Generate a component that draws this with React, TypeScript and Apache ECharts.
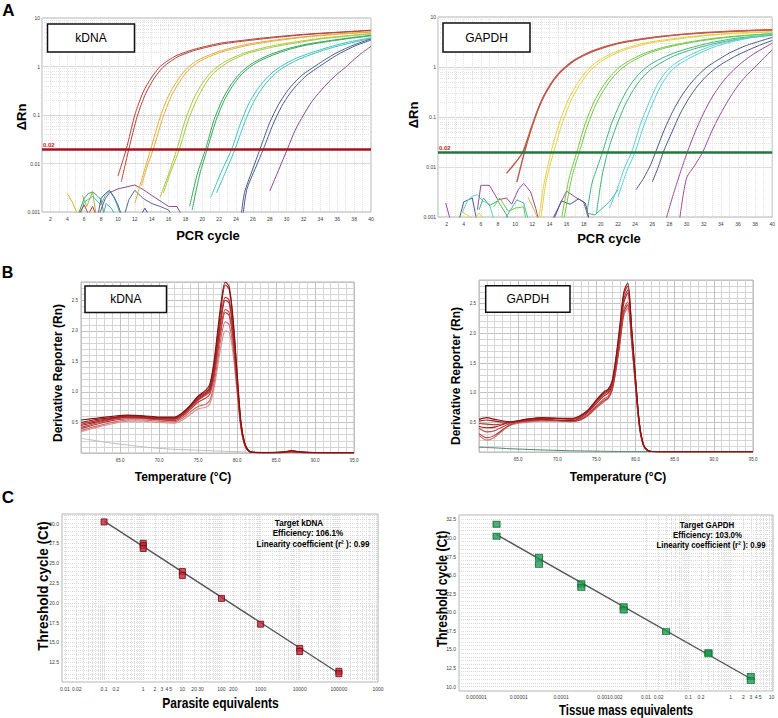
import React, { useEffect, useRef } from "react";
import * as echarts from "echarts";

const FONT = '"Liberation Sans", Arial, Helvetica, sans-serif';

// ---------------- Panel A : amplification plots ----------------
const cycleTicks = [2, 4, 6, 8, 10, 12, 14, 16, 18, 20, 22, 24, 26, 28, 30, 32, 34, 36, 38, 40];
const rnTicks = [0.001, 0.01, 0.1, 1, 10];
const thresholdRn = 0.02;

// kDNA curves [cycle, ΔRn]
const kRed1 = [[10, 0.0055], [11, 0.02], [12, 0.1], [13, 0.3], [14, 0.6], [15, 1.0], [16, 1.35], [17, 1.7], [19, 2.25], [22, 3.0], [25, 3.5], [28, 4.0], [32, 4.6], [36, 5.1], [40, 5.6]];
const kRed2 = [[10.4, 0.0042], [11.3, 0.02], [12.3, 0.095], [13.3, 0.28], [14.3, 0.57], [15.3, 0.95], [16.3, 1.3], [17.3, 1.65], [19.3, 2.2], [22.3, 2.9], [25.3, 3.4], [28.3, 3.9], [32, 4.5], [36, 5.0], [40, 5.5]];
const kOra1 = [[12, 0.0015], [13, 0.006], [13.9, 0.02], [15, 0.09], [16, 0.25], [17, 0.5], [18, 0.85], [19, 1.2], [20, 1.5], [22, 2.05], [25, 2.8], [28, 3.4], [32, 4.1], [36, 4.7], [40, 5.2]];
const kOra2 = [[12.8, 0.0035], [13.4, 0.008], [14.2, 0.02], [15.3, 0.085], [16.3, 0.24], [17.3, 0.48], [18.3, 0.82], [19.3, 1.15], [20.3, 1.45], [22.3, 2.0], [25.3, 2.7], [28.3, 3.3], [32, 4.0], [36, 4.6], [40, 5.1]];
const kYg1 = [[15, 0.002], [16, 0.006], [17, 0.02], [18, 0.08], [19, 0.22], [20, 0.45], [21, 0.75], [22, 1.05], [23, 1.35], [25, 1.9], [28, 2.6], [31, 3.2], [34, 3.8], [37, 4.3], [40, 4.8]];
const kYg2 = [[15.4, 0.0025], [16.3, 0.007], [17.3, 0.02], [18.3, 0.075], [19.3, 0.2], [20.3, 0.42], [21.3, 0.72], [22.3, 1.0], [23.3, 1.3], [25.3, 1.85], [28.3, 2.5], [31.3, 3.1], [34, 3.7], [37, 4.2], [40, 4.7]];
const kGr1 = [[18.5, 0.0013], [19.4, 0.006], [20.4, 0.02], [21.4, 0.08], [22.4, 0.21], [23.4, 0.42], [24.4, 0.7], [25.4, 1.0], [26.4, 1.3], [28, 1.75], [30, 2.3], [32, 2.8], [35, 3.4], [38, 4.0], [40, 4.4]];
const kGr2 = [[18.8, 0.0011], [19.7, 0.006], [20.6, 0.02], [21.6, 0.075], [22.6, 0.2], [23.6, 0.4], [24.6, 0.67], [25.6, 0.96], [26.6, 1.25], [28.3, 1.7], [30.3, 2.25], [32.3, 2.75], [35, 3.3], [38, 3.9], [40, 4.3]];
const kCy1 = [[21, 0.002], [22.3, 0.007], [23.5, 0.02], [24.5, 0.065], [25.5, 0.17], [26.5, 0.33], [27.5, 0.55], [28.5, 0.8], [29.5, 1.05], [31, 1.45], [33, 1.95], [35, 2.5], [37, 3.1], [40, 3.9]];
const kCy2 = [[21.7, 0.0025], [22.8, 0.007], [23.9, 0.02], [24.9, 0.062], [25.9, 0.16], [26.9, 0.32], [27.9, 0.53], [28.9, 0.78], [29.9, 1.02], [31.4, 1.4], [33.4, 1.9], [35.4, 2.45], [37.4, 3.0], [40, 3.8]];
const kDb1 = [[24.6, 0.0008], [25, 0.0025], [25.9, 0.007], [26.85, 0.02], [28, 0.07], [29, 0.16], [30, 0.3], [31, 0.48], [32, 0.7], [33, 0.92], [34, 1.2], [35, 1.55], [36, 1.95], [38, 2.8], [40, 3.7]];
const kDb2 = [[24.8, 0.0008], [25.3, 0.003], [26.3, 0.008], [27.25, 0.02], [28.4, 0.065], [29.4, 0.15], [30.4, 0.28], [31.4, 0.45], [32.4, 0.66], [33.4, 0.88], [34.4, 1.15], [35.4, 1.5], [36.4, 1.9], [38.2, 2.7], [40, 3.5]];
const kPu1 = [[28, 0.0027], [29, 0.007], [30.1, 0.02], [31, 0.048], [32, 0.1], [33, 0.19], [34, 0.31], [35, 0.48], [36, 0.7], [37, 0.97], [38, 1.4], [39, 1.95], [40, 2.6]];
// kDNA baseline noise
const kNoise1 = [[4, 0.0024], [4.6, 0.0016], [5, 0.0011], [5.4, 0.0008]];
const kNoise2 = [[5.8, 0.0022], [6.3, 0.0013], [7, 0.0026], [7.4, 0.0009]];
const kNoise3 = [[5.3, 0.0009], [6, 0.0019], [6.5, 0.0024], [7, 0.0026], [7.5, 0.0022], [8, 0.0018], [8.4, 0.0008]];
const kNoise4 = [[5.6, 0.0009], [6, 0.0016], [7, 0.0021], [8, 0.0014], [8.5, 0.0022], [9, 0.0027], [9.6, 0.0019], [10.1, 0.0011], [10.4, 0.0008]];
const kNoise5 = [[7.6, 0.0008], [8, 0.0019], [8.5, 0.0024], [9, 0.0028], [9.5, 0.0021], [10, 0.0014], [10.5, 0.0008]];
const kNoise6 = [[7.8, 0.0009], [8.5, 0.0019], [9, 0.0025], [10, 0.003], [12, 0.0036], [13, 0.0029], [14, 0.0022], [15, 0.0017], [16, 0.0013], [17, 0.0013], [17.5, 0.0009]];
const kNoise7 = [[10.2, 0.0009], [10.8, 0.0009], [11.3, 0.0018], [12, 0.0028], [13, 0.0019], [14, 0.0015], [15, 0.0013], [16, 0.0011], [16.5, 0.0008]];
const kNoise8 = [[12.8, 0.0009], [13.2, 0.0012], [13.6, 0.0009]];
const kNoise9 = [[5.2, 0.0008], [6, 0.0014], [6.5, 0.0009], [7, 0.0013], [7.5, 0.0008]];
const kNoise10 = [[8.2, 0.0008], [8.6, 0.0015], [9.2, 0.0012], [9.8, 0.0008]];

// GAPDH curves [cycle, ΔRn]
const gRed1 = [[9, 0.0075], [10, 0.012], [10.9, 0.02], [12, 0.07], [13, 0.2], [14, 0.42], [15, 0.72], [16, 1.05], [17, 1.4], [19, 2.1], [22, 3.0], [26, 3.9], [30, 4.6], [35, 5.2], [40, 5.6]];
const gRed2 = [[10.2, 0.005], [11.1, 0.02], [12.1, 0.075], [13.1, 0.21], [14.1, 0.43], [15.1, 0.73], [16.1, 1.05], [17.1, 1.4], [19.1, 2.05], [22, 2.95], [26, 3.85], [30, 4.55], [35, 5.1], [40, 5.5]];
const gYel1 = [[12.8, 0.001], [13.3, 0.004], [14.2, 0.02], [15.2, 0.08], [16.2, 0.22], [17.2, 0.45], [18.2, 0.78], [19.2, 1.15], [20.2, 1.5], [22, 2.1], [25, 3.0], [28, 3.6], [32, 4.3], [36, 4.8], [40, 5.1]];
const gYel2 = [[13, 0.0009], [13.6, 0.005], [14.5, 0.02], [15.5, 0.075], [16.5, 0.21], [17.5, 0.43], [18.5, 0.75], [19.5, 1.1], [20.5, 1.45], [22.3, 2.05], [25.3, 2.9], [28.3, 3.5], [32, 4.2], [36, 4.7], [40, 5.0]];
const gYg1 = [[15.4, 0.0009], [16.3, 0.006], [17.2, 0.02], [18.2, 0.075], [19.2, 0.2], [20.2, 0.4], [21.2, 0.68], [22.2, 1.0], [23.2, 1.3], [25, 1.85], [27, 2.4], [30, 3.1], [33, 3.7], [36, 4.2], [40, 4.7]];
const gYg2 = [[15.7, 0.0009], [16.6, 0.006], [17.5, 0.02], [18.5, 0.072], [19.5, 0.19], [20.5, 0.38], [21.5, 0.65], [22.5, 0.95], [23.5, 1.25], [25.3, 1.8], [27.3, 2.35], [30.3, 3.05], [33.3, 3.65], [36.3, 4.15], [40, 4.6]];
const gGr1 = [[18.4, 0.0013], [19, 0.005], [19.6, 0.01], [20.2, 0.02], [21.2, 0.07], [22.2, 0.18], [23.2, 0.38], [24.2, 0.65], [25.2, 0.95], [26.2, 1.25], [28, 1.75], [30, 2.3], [33, 3.1], [36, 3.8], [40, 4.4]];
const gGr2 = [[19.5, 0.0012], [20.1, 0.006], [20.8, 0.02], [21.8, 0.065], [22.8, 0.17], [23.8, 0.35], [24.8, 0.6], [25.8, 0.88], [26.8, 1.15], [28.5, 1.65], [30.5, 2.2], [33.5, 3.0], [36.5, 3.7], [40, 4.3]];
const gCy1 = [[21, 0.0015], [22, 0.004], [22.8, 0.01], [23.6, 0.02], [24.6, 0.07], [25.6, 0.19], [26.6, 0.45], [27.6, 0.8], [28.6, 1.15], [30, 1.6], [32, 2.3], [34, 3.0], [37, 3.8], [40, 4.6]];
const gCy2 = [[22, 0.0025], [23, 0.008], [24, 0.02], [25, 0.066], [26, 0.18], [27, 0.42], [28, 0.76], [29, 1.1], [30.5, 1.55], [32.5, 2.25], [34.5, 2.95], [37, 3.7], [40, 4.5]];
const gDb1 = [[24.1, 0.0035], [25, 0.006], [25.8, 0.011], [26.4, 0.02], [27.4, 0.055], [28.4, 0.13], [29.4, 0.26], [30.4, 0.45], [31.4, 0.7], [32.4, 1.0], [33.4, 1.3], [35, 1.9], [37, 2.7], [40, 3.9]];
const gDb2 = [[26, 0.005], [26.7, 0.01], [27.3, 0.02], [28.3, 0.05], [29.3, 0.12], [30.3, 0.24], [31.3, 0.42], [32.3, 0.65], [33.3, 0.92], [34.3, 1.2], [36, 1.75], [38, 2.5], [40, 3.4]];
const gPu1 = [[27.6, 0.0009], [28.5, 0.003], [29.4, 0.009], [30.1, 0.02], [31, 0.05], [32, 0.12], [33, 0.25], [34, 0.45], [35, 0.72], [36, 1.05], [37, 1.45], [38, 1.9], [40, 3.0]];
const gPu2 = [[29.2, 0.0009], [30, 0.006], [31, 0.011], [31.9, 0.02], [32.9, 0.05], [33.9, 0.11], [34.9, 0.22], [35.9, 0.4], [36.9, 0.65], [38, 1.0], [39, 1.5], [40, 2.2]];
// GAPDH baseline noise
const gNoise1 = [[1.9, 0.0019], [2.5, 0.0008]];
const gNoise2 = [[3.4, 0.0008], [4, 0.002], [5, 0.0024], [5.5, 0.0009]];
const gNoise3 = [[3.8, 0.0012], [4.5, 0.0022], [5, 0.0026], [5.6, 0.0028], [6.2, 0.0021], [7, 0.0018], [7.6, 0.0008]];
const gNoise4 = [[5.6, 0.0014], [6, 0.0043], [7, 0.0043], [8, 0.0022], [9, 0.0024], [9.6, 0.0018], [10.4, 0.0036], [11, 0.0047], [11.8, 0.0032], [12.4, 0.0015], [12.8, 0.0008]];
const gNoise5 = [[5.8, 0.0014], [6.3, 0.0024], [7, 0.0017], [8, 0.0021], [9, 0.0011], [9.5, 0.0008]];
const gNoise6 = [[3.6, 0.0013], [4.4, 0.0011], [5.2, 0.0009], [5.8, 0.0012], [6.6, 0.0008]];
const gNoise7 = [[7.5, 0.0016], [8.2, 0.0024], [9.2, 0.0013], [10, 0.0015], [11, 0.0016], [11.3, 0.0008]];
const gNoise8 = [[8.8, 0.0009], [9.6, 0.0015], [10.2, 0.0022], [11, 0.0019], [11.6, 0.0008]];
const gNoise9 = [[14.2, 0.0008], [15, 0.0015], [16, 0.0033], [17, 0.0025], [18, 0.002], [18.6, 0.0009]];
const gNoise10 = [[14.4, 0.0008], [15.4, 0.0021], [16.4, 0.0018], [17.4, 0.0023], [18.2, 0.0019], [18.7, 0.0008]];
const gNoise11 = [[18.3, 0.0012], [19.3, 0.0011], [20, 0.0014], [21, 0.002], [22, 0.0035]];
const gNoise12 = [[11.5, 0.0025], [12.2, 0.0014], [12.8, 0.0008]];

// ---------------- Panel B : melt curves ----------------
const meltTemps = [60, 61, 62, 64, 66, 68, 70, 72, 73, 74, 75, 76, 76.5, 77, 77.5, 78, 78.5, 79, 79.5, 80, 80.5, 81, 81.5, 82, 84, 86, 87, 88, 90, 95];
const meltXTicks = [65, 70, 75, 80, 85, 90, 95];
const meltYTicks = [0.5, 1, 1.5, 2, 2.5];
const kMelt1 = [0.54, 0.555, 0.57, 0.6, 0.62, 0.61, 0.59, 0.59, 0.66, 0.78, 0.93, 1.03, 1.12, 1.45, 1.98, 2.5, 2.8, 2.72, 2.2, 1.35, 0.52, 0.16, 0.04, 0.012, 0.008, 0.02, 0.04, 0.02, 0.008, 0.004];
const kMelt2 = [0.5, 0.525, 0.55, 0.58, 0.61, 0.6, 0.58, 0.58, 0.65, 0.77, 0.92, 1.0, 1.08, 1.4, 1.9, 2.42, 2.75, 2.68, 2.15, 1.3, 0.5, 0.15, 0.04, 0.01, 0.006, 0.015, 0.035, 0.018, 0.006, 0.003];
const kMelt3 = [0.47, 0.5, 0.53, 0.57, 0.6, 0.59, 0.57, 0.57, 0.64, 0.76, 0.9, 0.98, 1.05, 1.33, 1.8, 2.28, 2.55, 2.5, 2.02, 1.22, 0.47, 0.14, 0.035, 0.01, 0.005, 0.012, 0.03, 0.015, 0.005, 0.003];
const kMelt4 = [0.45, 0.48, 0.51, 0.56, 0.59, 0.58, 0.56, 0.56, 0.63, 0.75, 0.88, 0.97, 1.02, 1.3, 1.76, 2.22, 2.5, 2.45, 1.98, 1.2, 0.46, 0.14, 0.03, 0.01, 0.005, 0.01, 0.025, 0.012, 0.005, 0.003];
const kMelt5 = [0.42, 0.455, 0.49, 0.55, 0.58, 0.57, 0.55, 0.55, 0.62, 0.73, 0.86, 0.95, 1.0, 1.25, 1.68, 2.1, 2.35, 2.3, 1.88, 1.15, 0.45, 0.13, 0.03, 0.01, 0.004, 0.008, 0.02, 0.01, 0.004, 0.002];
const kMelt6 = [0.4, 0.435, 0.47, 0.53, 0.56, 0.56, 0.54, 0.53, 0.6, 0.71, 0.83, 0.9, 0.96, 1.2, 1.62, 2.05, 2.3, 2.25, 1.85, 1.12, 0.44, 0.13, 0.03, 0.009, 0.004, 0.008, 0.02, 0.01, 0.004, 0.002];
const kMelt7 = [0.37, 0.405, 0.44, 0.5, 0.54, 0.54, 0.52, 0.51, 0.57, 0.67, 0.76, 0.8, 0.86, 1.1, 1.5, 1.92, 2.15, 2.1, 1.72, 1.05, 0.42, 0.12, 0.03, 0.009, 0.004, 0.006, 0.015, 0.008, 0.003, 0.002];
const kMelt8 = [0.35, 0.385, 0.42, 0.48, 0.52, 0.52, 0.5, 0.49, 0.54, 0.63, 0.72, 0.75, 0.8, 1.02, 1.4, 1.78, 2.0, 1.97, 1.62, 1.0, 0.4, 0.12, 0.03, 0.008, 0.003, 0.005, 0.012, 0.006, 0.003, 0.002];
const kMeltNtc = [0.24, 0.22, 0.2, 0.16, 0.13, 0.1, 0.077, 0.06, 0.055, 0.05, 0.045, 0.04, 0.038, 0.035, 0.033, 0.03, 0.028, 0.026, 0.024, 0.022, 0.02, 0.018, 0.016, 0.015, 0.012, 0.01, 0.009, 0.008, 0.007, 0.005];
const gMelt1 = [0.55, 0.58, 0.55, 0.51, 0.55, 0.58, 0.57, 0.57, 0.62, 0.72, 0.88, 1.02, 1.06, 1.2, 1.6, 2.15, 2.7, 2.85, 2.1, 1.25, 0.48, 0.13, 0.03, 0.008, 0.005, 0.004, 0.004, 0.003, 0.003, 0.003];
const gMelt2 = [0.52, 0.54, 0.52, 0.5, 0.55, 0.57, 0.57, 0.56, 0.61, 0.71, 0.86, 1.0, 1.04, 1.18, 1.57, 2.1, 2.65, 2.8, 2.07, 1.22, 0.47, 0.13, 0.03, 0.008, 0.005, 0.004, 0.004, 0.003, 0.003, 0.003];
const gMelt3 = [0.48, 0.47, 0.46, 0.5, 0.54, 0.56, 0.56, 0.55, 0.6, 0.7, 0.85, 0.98, 1.02, 1.15, 1.52, 2.05, 2.58, 2.73, 2.02, 1.2, 0.46, 0.12, 0.03, 0.008, 0.005, 0.004, 0.004, 0.003, 0.003, 0.003];
const gMelt4 = [0.43, 0.41, 0.42, 0.5, 0.53, 0.55, 0.54, 0.53, 0.58, 0.68, 0.82, 0.95, 0.99, 1.12, 1.5, 2.0, 2.52, 2.68, 2.0, 1.18, 0.45, 0.12, 0.03, 0.008, 0.005, 0.004, 0.004, 0.003, 0.003, 0.003];
const gMelt5 = [0.4, 0.34, 0.36, 0.48, 0.52, 0.54, 0.53, 0.52, 0.56, 0.65, 0.78, 0.9, 0.94, 1.08, 1.42, 1.9, 2.4, 2.53, 1.9, 1.12, 0.43, 0.12, 0.03, 0.008, 0.005, 0.004, 0.004, 0.003, 0.003, 0.003];
const gMelt6 = [0.31, 0.24, 0.28, 0.46, 0.52, 0.54, 0.53, 0.52, 0.55, 0.63, 0.76, 0.87, 0.91, 1.05, 1.4, 1.85, 2.35, 2.48, 1.87, 1.1, 0.42, 0.11, 0.03, 0.008, 0.005, 0.004, 0.004, 0.003, 0.003, 0.003];
const gMelt7 = [0.28, 0.2, 0.25, 0.45, 0.5, 0.52, 0.52, 0.51, 0.54, 0.62, 0.74, 0.85, 0.9, 1.03, 1.37, 1.82, 2.3, 2.43, 1.84, 1.08, 0.41, 0.11, 0.03, 0.008, 0.005, 0.004, 0.004, 0.003, 0.003, 0.003];
const gMeltNtc = [0.08, 0.075, 0.07, 0.055, 0.045, 0.035, 0.027, 0.02, 0.018, 0.016, 0.014, 0.012, 0.011, 0.01, 0.01, 0.009, 0.009, 0.008, 0.008, 0.008, 0.007, 0.007, 0.007, 0.006, 0.006, 0.005, 0.005, 0.005, 0.004, 0.004];

// ---------------- Panel C : standard curves ----------------
const kdnaStdQty = [0.1, 1, 1, 1, 10, 10, 100, 1000, 10000, 10000, 100000, 100000];
const kdnaStdCt = [30.2, 27.5, 27.2, 26.85, 23.95, 23.45, 20.55, 17.3, 14.25, 13.85, 11.35, 11.05];
const kdnaFitQty = [0.1, 100000];
const kdnaFitCt = [30.3, 11.1];
const kdnaQtyTicks = [0.01, 0.02, 0.1, 0.2, 1, 2, 3, 4, 5, 10, 20, 30, 100, 200, 1000, 10000, 100000, 1000000];
const kdnaCtTicks = [12.5, 15, 17.5, 20, 22.5, 25, 27.5, 30];

const gapdhStdQty = [0.000003, 0.000003, 0.00003, 0.00003, 0.0003, 0.0003, 0.003, 0.003, 0.03, 0.3, 0.3, 3, 3];
const gapdhStdCt = [31.85, 30.25, 27.4, 26.45, 23.85, 23.35, 20.75, 20.3, 17.4, 14.55, 14.4, 11.35, 10.8];
const gapdhFitQty = [0.000003, 3];
const gapdhFitCt = [30.45, 11.05];
const gapdhQtyTicks = [0.000001, 0.00001, 0.0001, 0.001, 0.002, 0.01, 0.02, 0.1, 0.2, 1, 2, 3, 4, 5];
const gapdhCtTicks = [10, 12.5, 15, 17.5, 20, 22.5, 25, 27.5, 30, 32.5];

// ---------------- helpers ----------------
const fmtNum = (v: number) => String(Number(Number(v).toPrecision(6)));
const zip = (xs: number[], ys: number[]) => xs.map((x, i) => [x, ys[i]]);

function logLines(e0: number, e1: number, ks: number[], lo: number, hi: number) {
  const out: number[] = [];
  for (let e = e0; e <= e1; e++) {
    for (const k of ks) {
      const v = Number((k * Math.pow(10, e)).toPrecision(6));
      if (v > lo && v < hi) out.push(v);
    }
  }
  return out;
}
function linLines(lo: number, hi: number, step: number) {
  const out: number[] = [];
  for (let v = Math.ceil(lo / step) * step; v < hi; v += step) out.push(Number(v.toFixed(4)));
  return out;
}

function gridLines(idx: number, anchor: number[], xs: number[], ys: number[], color: string, type: string) {
  return {
    type: "line", xAxisIndex: idx, yAxisIndex: idx, data: [anchor], symbol: "none", silent: true, z: 1,
    lineStyle: { opacity: 0 },
    markLine: {
      silent: true, z: 1, symbol: ["none", "none"], label: { show: false }, animation: false,
      lineStyle: { color, type, width: 1 },
      emphasis: { disabled: true },
      data: [...xs.map((v) => ({ xAxis: v })), ...ys.map((v) => ({ yAxis: v }))],
    },
  };
}

function thresholdSeries(idx: number, color: string) {
  return {
    type: "line", xAxisIndex: idx, yAxisIndex: idx, data: [[2, thresholdRn]], symbol: "none", silent: true,
    lineStyle: { opacity: 0 },
    markLine: {
      silent: true, z: 6, symbol: ["none", "none"], animation: false,
      lineStyle: { color, width: 2.5, type: "solid" },
      emphasis: { disabled: true },
      label: { show: true, position: "insideStartTop", formatter: "0.02", color: "#c0282a", fontSize: 6, fontWeight: "bold", fontFamily: FONT, distance: [1, 1] },
      data: [{ yAxis: thresholdRn }],
    },
  };
}

function curve(idx: number, data: any[], color: string, smooth: number, width = 1) {
  return {
    type: "line", xAxisIndex: idx, yAxisIndex: idx, data, symbol: "none", showSymbol: false, smooth,
    lineStyle: { color, width }, silent: true, z: 3,
  };
}

const tickLabel = (size: number, margin: number, customValues: number[], formatter: any) => ({
  show: true, fontSize: size, color: "#3a3a3a", fontFamily: FONT, margin, customValues, formatter,
  showMinLabel: true, showMaxLabel: true, hideOverlap: false,
});
const noLine = { show: false };

const txt = (text: string, x: number, y: number, size: number, opts: any = {}) => ({
  type: "text", x, y, z: 100,
  rotation: opts.rot ? Math.PI / 2 : 0,
  scaleX: opts.sx || 1, scaleY: opts.sy || 1,
  style: {
    text, fill: opts.color || "#000", font: `${opts.weight || "bold"} ${size}px ${FONT}`,
    align: "center", verticalAlign: "middle",
  },
});
const box = (x: number, y: number, w: number, h: number) => ({
  type: "rect", z: 99, shape: { x, y, width: w, height: h },
  style: { fill: "#fff", stroke: "#111", lineWidth: 1.5 },
});

function buildOption() {
  const grids = [
    { left: 42, top: 18, width: 329, height: 194 },
    { left: 438, top: 17, width: 335, height: 200 },
    { left: 81, top: 282, width: 273, height: 171 },
    { left: 479, top: 280, width: 274, height: 172 },
    { left: 62, top: 514, width: 316, height: 168 },
    { left: 459, top: 515, width: 314, height: 176 },
  ].map((g) => ({ ...g, show: true, borderColor: "#b4b4b4", borderWidth: 1, containLabel: false }));

  const ampX = (gi: number) => ({
    type: "value", gridIndex: gi, min: 1, max: 40, interval: 1,
    axisLine: noLine, axisTick: noLine,
    splitLine: { show: true, lineStyle: { color: "#e0e0e0", type: "dotted" } },
    axisLabel: tickLabel(5, 4, cycleTicks, (v: number) => fmtNum(v)),
  });
  const ampY = (gi: number) => ({
    type: "log", logBase: 10, gridIndex: gi, min: 0.001, max: 10,
    axisLine: noLine, axisTick: noLine,
    splitLine: { show: true, lineStyle: { color: "#d6d6d6" } },
    axisLabel: tickLabel(5, 2, rnTicks, (v: number) => fmtNum(v)),
  });
  const meltX = (gi: number) => ({
    type: "value", gridIndex: gi, min: 60, max: 95, interval: 5,
    axisLine: noLine, axisTick: noLine,
    splitLine: { show: true, lineStyle: { color: "#c2c2c2" } },
    minorTick: { show: false, splitNumber: 5 },
    minorSplitLine: { show: true, lineStyle: { color: "#d5d5d5" } },
    axisLabel: tickLabel(4.5, 5, meltXTicks, (v: number) => Number(v).toFixed(1)),
  });
  const meltY = (gi: number, max: number) => ({
    type: "value", gridIndex: gi, min: 0, max, interval: 0.5,
    axisLine: noLine, axisTick: noLine,
    splitLine: { show: true, lineStyle: { color: "#c2c2c2" } },
    minorTick: { show: false, splitNumber: 5 },
    minorSplitLine: { show: true, lineStyle: { color: "#d5d5d5" } },
    axisLabel: tickLabel(4.5, 3, meltYTicks, (v: number) => Number(v).toFixed(1)),
  });

  const xAxis = [
    ampX(0), ampX(1), meltX(2), meltX(3),
    {
      type: "log", logBase: 10, gridIndex: 4, min: 0.0084, max: 1000500,
      axisLine: noLine, axisTick: noLine, splitLine: noLine,
      axisLabel: tickLabel(5, 4, kdnaQtyTicks, (v: number) => (v >= 999999 ? "1000" : fmtNum(v))),
    },
    {
      type: "log", logBase: 10, gridIndex: 5, min: 0.00000039, max: 10.02,
      axisLine: noLine, axisTick: noLine, splitLine: noLine,
      axisLabel: tickLabel(5, 3, gapdhQtyTicks, (v: number) => fmtNum(v)),
    },
  ];
  const yAxis = [
    ampY(0), ampY(1), meltY(2, 2.8), meltY(3, 2.9),
    {
      type: "value", gridIndex: 4, min: 10, max: 31.2,
      axisLine: noLine, axisTick: noLine, splitLine: noLine,
      axisLabel: tickLabel(5, 3, kdnaCtTicks, (v: number) => Number(v).toFixed(1)),
    },
    {
      type: "value", gridIndex: 5, min: 9.4, max: 33.1,
      axisLine: noLine, axisTick: noLine, splitLine: noLine,
      axisLabel: tickLabel(5, 3, gapdhCtTicks, (v: number) => Number(v).toFixed(1)),
    },
  ];

  const kCol = { red: "#b6413a", ora: "#e0ad3c", yg: "#a8c83c", gr: "#35a85c", cy: "#3cc4bd", db: "#4b5d8c", pu: "#8b4c8f" };
  const gCol = { red: "#c25a4a", yel: "#e3cf45", yg: "#73c844", gr: "#3db57a", cy: "#58cfd6", db: "#4c5a8c", pu: "#9a4b9c" };

  const series: any[] = [];
  series.push(gridLines(0, [20, 0.1], [], logLines(-3, 0, [2, 3, 4, 5, 6, 7, 8, 9], 0.001, 10), "#e3e3e3", "dotted"));
  series.push(gridLines(1, [20, 0.1], [], logLines(-3, 0, [2, 3, 4, 5, 6, 7, 8, 9], 0.001, 10), "#e3e3e3", "dotted"));
  series.push(gridLines(4, [1, 20], logLines(-3, 6, [1, 2, 3, 4, 5, 6, 7, 8, 9], 0.0084, 1000000), linLines(10, 31.2, 0.5), "#dadada", "dotted"));
  series.push(gridLines(5, [0.001, 20], logLines(-7, 1, [1, 2, 3, 4, 5, 6, 7, 8, 9], 0.00000039, 10), linLines(9.4, 33.1, 0.5), "#dadada", "dotted"));

  const kNoise: [any[], string][] = [
    [kNoise1, kCol.ora], [kNoise2, "#b8b040"], [kNoise3, kCol.gr], [kNoise4, kCol.cy], [kNoise5, kCol.db],
    [kNoise6, kCol.pu], [kNoise7, "#5a6a9a"], [kNoise8, "#3a5aa0"], [kNoise9, kCol.red], [kNoise10, "#40b0a0"],
  ];
  kNoise.forEach(([d, c]) => series.push(curve(0, d, c, 0)));
  const kAmp: [any[], string][] = [
    [kRed1, kCol.red], [kRed2, kCol.red], [kOra1, kCol.ora], [kOra2, kCol.ora], [kYg1, kCol.yg], [kYg2, kCol.yg],
    [kGr1, kCol.gr], [kGr2, kCol.gr], [kCy1, kCol.cy], [kCy2, kCol.cy], [kDb1, kCol.db], [kDb2, kCol.db], [kPu1, kCol.pu],
  ];
  kAmp.forEach(([d, c]) => series.push(curve(0, d, c, 0.25)));
  series.push(thresholdSeries(0, "#a3141c"));

  const gNoise: [any[], string][] = [
    [gNoise1, gCol.pu], [gNoise2, gCol.db], [gNoise3, gCol.cy], [gNoise4, gCol.pu], [gNoise5, gCol.gr], [gNoise6, gCol.yel],
    [gNoise7, gCol.yg], [gNoise8, "#40b8b8"], [gNoise9, gCol.pu], [gNoise10, gCol.db], [gNoise11, "#3fb59a"], [gNoise12, "#d8b840"],
  ];
  gNoise.forEach(([d, c]) => series.push(curve(1, d, c, 0)));
  const gAmp: [any[], string][] = [
    [gRed1, gCol.red], [gRed2, gCol.red], [gYel1, gCol.yel], [gYel2, gCol.yel], [gYg1, gCol.yg], [gYg2, gCol.yg],
    [gGr1, gCol.gr], [gGr2, gCol.gr], [gCy1, gCol.cy], [gCy2, gCol.cy], [gDb1, gCol.db], [gDb2, gCol.db], [gPu1, gCol.pu], [gPu2, gCol.pu],
  ];
  gAmp.forEach(([d, c]) => series.push(curve(1, d, c, 0.25, c === gCol.red ? 1.4 : 1)));
  series.push(thresholdSeries(1, "#1f7a3c"));

  series.push(curve(2, zip(meltTemps, kMeltNtc), "#bdbdbd", 0.3));
  const kMelt: [number[], string][] = [
    [kMelt8, "#d98e8e"], [kMelt7, "#cc6a6a"], [kMelt6, "#b83a3a"], [kMelt5, "#c04848"],
    [kMelt4, "#a52222"], [kMelt3, "#b02c2c"], [kMelt2, "#9a1a1a"], [kMelt1, "#861010"],
  ];
  kMelt.forEach(([v, c]) => series.push(curve(2, zip(meltTemps, v), c, 0.3, 1.1)));
  series.push(curve(3, zip(meltTemps, gMeltNtc), "#4a8a6a", 0.3));
  const gMelt: [number[], string][] = [
    [gMelt7, "#cf7474"], [gMelt6, "#b03030"], [gMelt5, "#c24a4a"], [gMelt4, "#9a1c1c"],
    [gMelt3, "#b53535"], [gMelt2, "#a32222"], [gMelt1, "#861414"],
  ];
  gMelt.forEach(([v, c]) => series.push(curve(3, zip(meltTemps, v), c, 0.3, 1.1)));

  series.push({
    type: "line", xAxisIndex: 4, yAxisIndex: 4, data: zip(kdnaFitQty, kdnaFitCt), symbol: "none",
    lineStyle: { color: "#555", width: 1.4 }, silent: true, z: 4,
  });
  series.push({
    type: "scatter", xAxisIndex: 4, yAxisIndex: 4, data: zip(kdnaStdQty, kdnaStdCt), symbol: "rect", symbolSize: [6, 6],
    itemStyle: { color: "#c3283a", borderColor: "#6e0a14", borderWidth: 1 }, silent: true, z: 5,
  });
  series.push({
    type: "line", xAxisIndex: 5, yAxisIndex: 5, data: zip(gapdhFitQty, gapdhFitCt), symbol: "none",
    lineStyle: { color: "#555", width: 1.4 }, silent: true, z: 4,
  });
  series.push({
    type: "scatter", xAxisIndex: 5, yAxisIndex: 5, data: zip(gapdhStdQty, gapdhStdCt), symbol: "rect", symbolSize: [7, 6],
    itemStyle: { color: "#1e9a50", borderColor: "#0d6b33", borderWidth: 1 }, silent: true, z: 5,
  });

  const graphic = [
    txt("A", 8.5, 10, 17),
    txt("B", 7.5, 272.5, 16),
    txt("C", 8, 497, 17),
    txt("ΔRn", 21, 117, 13, { rot: true }),
    txt("ΔRn", 413, 115, 13, { rot: true }),
    txt("PCR cycle", 208, 235, 13),
    txt("PCR cycle", 609, 238, 13),
    txt("Derivative Reporter (Rn)", 58, 373, 12, { rot: true }),
    txt("Derivative Reporter (Rn)", 456, 376, 12, { rot: true }),
    txt("Temperature (°C)", 183, 476.5, 12),
    txt("Temperature (°C)", 618, 477, 12),
    txt("Threshold cycle (Ct)", 43, 586, 15, { rot: true, sx: 0.9 }),
    txt("Threshold cycle (Ct)", 442, 589, 15, { rot: true, sx: 0.81 }),
    txt("Parasite equivalents", 220.5, 703, 14, { sx: 0.86 }),
    txt("Tissue mass equivalents", 626, 710, 15, { sx: 0.76 }),
    txt("Target kDNA", 299, 522.7, 9, { sx: 0.9 }),
    txt("Efficiency: 106.1%", 308, 533.3, 9, { sx: 0.9 }),
    txt("Linearity coefficient (r² ): 0.99", 313, 544, 9, { sx: 0.9 }),
    txt("Target GAPDH", 707, 525, 9, { sx: 0.88 }),
    txt("Efficiency: 103.0%", 707.5, 534.5, 9, { sx: 0.88 }),
    txt("Linearity coefficient (r² ): 0.99", 711, 545, 9, { sx: 0.87 }),
    // last tick label of the GAPDH quantity axis (sits on the plot's right edge)
    txt("10", 771.5, 696.5, 5, { weight: "normal", color: "#3a3a3a" }),
    box(47.5, 24, 87, 28),
    txt("kDNA", 91, 38, 12, { weight: "normal" }),
    box(443, 23, 87, 29),
    txt("GAPDH", 486.5, 37.5, 12, { weight: "normal" }),
    box(85, 286, 81.5, 26.5),
    txt("kDNA", 125.8, 299.3, 12, { weight: "normal" }),
    box(485.7, 285.7, 84.3, 26.6),
    txt("GAPDH", 527.8, 299, 12, { weight: "normal" }),
  ];

  return {
    animation: false,
    backgroundColor: "#fff",
    grid: grids,
    xAxis,
    yAxis,
    series,
    graphic,
  };
}

export default function App() {
  const ref = useRef<HTMLDivElement>(null);
  useEffect(() => {
    const chart = echarts.init(ref.current as HTMLDivElement, null, { renderer: "svg" });
    chart.setOption(buildOption() as any);
    return () => chart.dispose();
  }, []);
  return (
    <div
      ref={ref}
      style={{ position: "absolute", left: 0, top: 0, width: 778, height: 718, background: "#fff" }}
    />
  );
}
